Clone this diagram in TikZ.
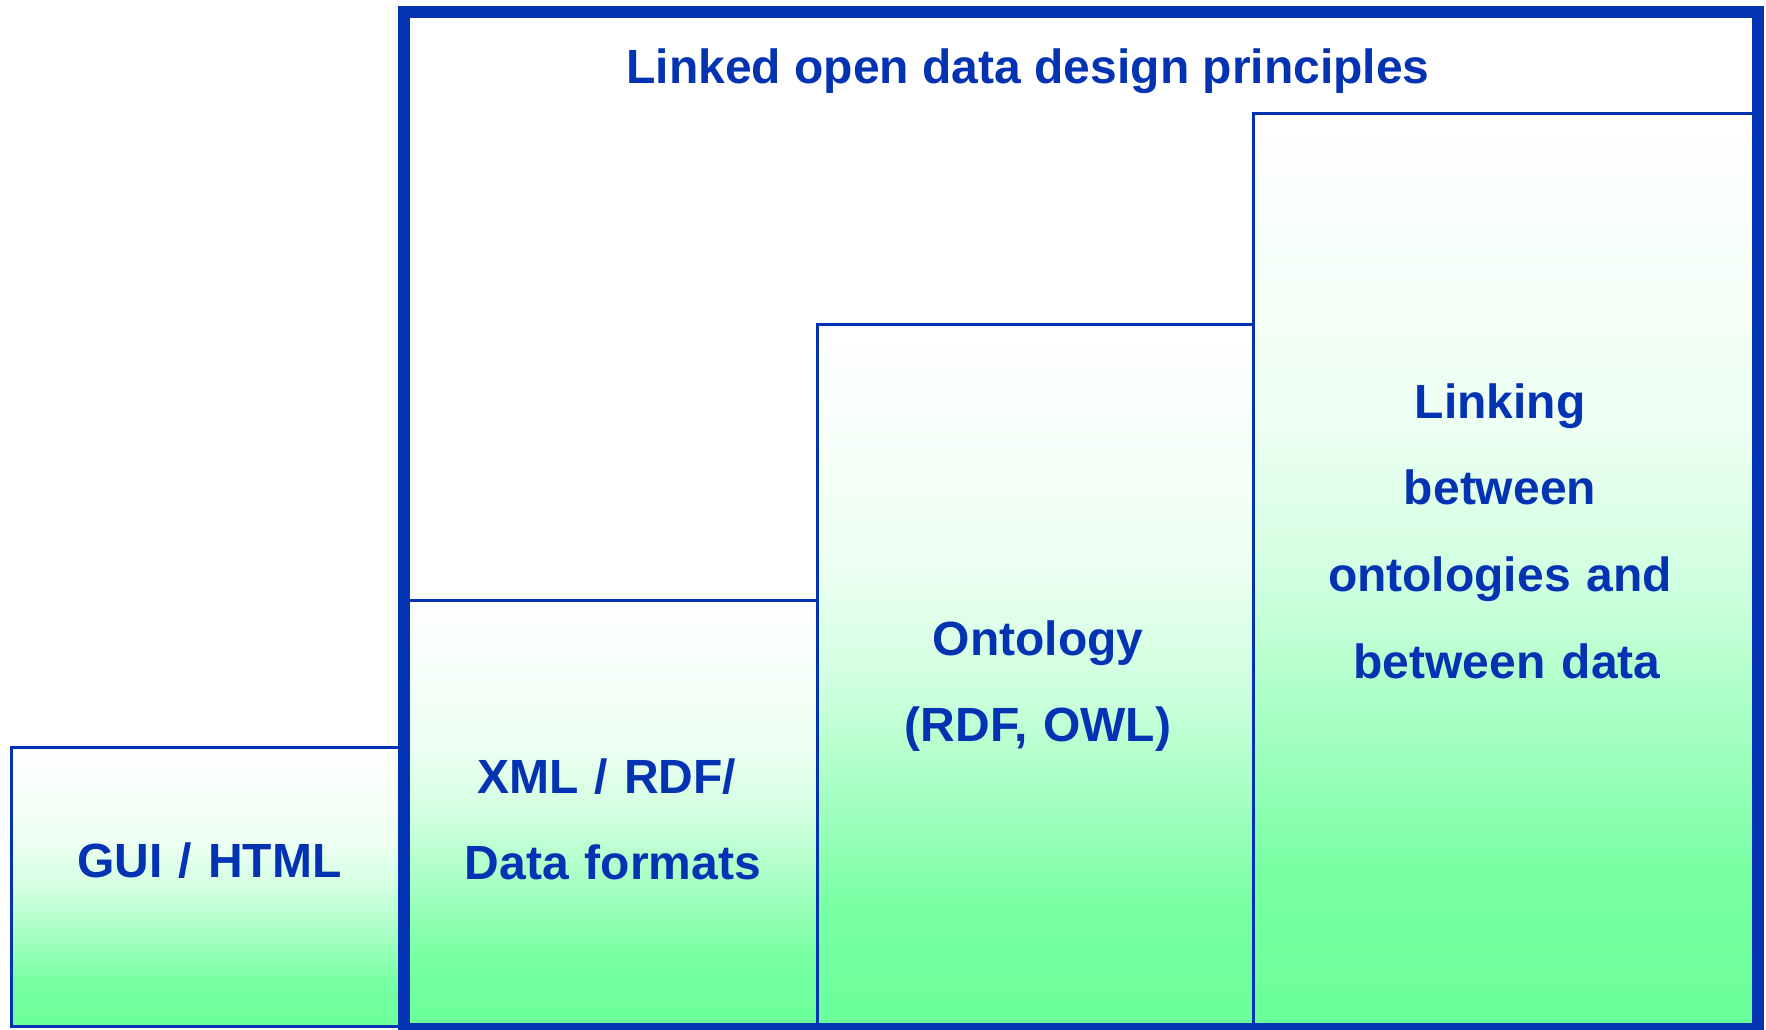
\documentclass[tikz,border=0pt]{standalone}
\usepackage{fontspec}
\setmainfont{Liberation Sans}
\definecolor{myblue}{HTML}{0333B3}
\definecolor{lgreen}{HTML}{6BFF9A}
\pgfdeclareverticalshading{boxgrad}{100bp}{color(0bp)=(lgreen); color(25bp)=(lgreen); color(33bp)=(lgreen!92!white); color(40bp)=(lgreen!65!white); color(50bp)=(lgreen!30!white); color(58bp)=(lgreen!12!white); color(75bp)=(white); color(100bp)=(white)}
\tikzset{
  boxst/.style={draw=myblue, line width=3pt, shade, shading=boxgrad},
  frame/.style={draw=myblue, line width=12pt},
  lbl/.style={text=myblue, inner sep=0pt, anchor=base, align=center, font=\fontsize{48}{86.7}\selectfont\bfseries},
}
\begin{document}
\begin{tikzpicture}[x=1pt,y=-1pt]
\path[fill=white] (0,0) rectangle (1766,1029);
\useasboundingbox (0,0) rectangle (1766,1029);
% boxes
\path[boxst] (11,747) rectangle (404,1026.5);
\path[boxst] (404,600) rectangle (817,1024);
\path[boxst] (817,324) rectangle (1253,1024);
\path[boxst] (1253,113) rectangle (1758,1024);
% outer frame
\path[frame] (404,11.5) -- (1758,11.5) -- (1758,1030) -- (404,1030) -- cycle;
% labels
\node[lbl] (title) at (1028,83) {Linked open data design principles};
\node[lbl, text width=380pt] (gui) at (209.5,877) {GUI / HTML};
\node[lbl, text width=400pt] (xml) at (613,793) {XML / RDF/\rule{12pt}{0pt}\\Data formats};
\node[lbl, text width=430pt] (onto) at (1038,655) {Ontology\\(RDF, OWL)};
\node[lbl, text width=490pt] (link) at (1500,418) {Linking\\between\\ontologies and\\\hspace*{14pt}between data};
\end{tikzpicture}
\end{document}
